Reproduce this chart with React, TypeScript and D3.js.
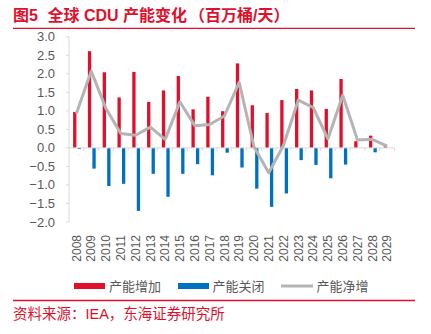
import React from "react";
import * as d3 from "d3";

const years = ["2008","2009","2010","2011","2012","2013","2014","2015","2016","2017","2018","2019","2020","2021","2022","2023","2024","2025","2026","2027","2028","2029"];
const additions = [0.97,2.61,2.04,1.36,2.05,1.24,1.55,1.94,1.04,1.38,0.99,2.28,1.15,0.94,1.29,1.59,1.55,1.05,1.86,0.18,0.33,0.05];
const closures = [-0.03,-0.56,-1.03,-0.97,-1.70,-0.70,-1.32,-0.70,-0.44,-0.74,-0.13,-0.53,-1.10,-1.59,-1.23,-0.33,-0.46,-0.82,-0.45,0,-0.12,0];
const netAdds = [0.93,2.07,1.06,0.39,0.34,0.56,0.23,1.24,0.60,0.63,0.86,1.77,0.03,-0.67,0.07,1.29,1.09,0.24,1.42,0.21,0.23,0.05];
const yTicks = [3,2.5,2,1.5,1,0.5,0,-0.5,-1,-1.5,-2];
const legendLabels = ["产能增加","产能关闭","产能净增"];

const RED = "#e0102c";
const BLUE = "#0070c0";
const GRAY = "#b4b4b4";
const TXT = "#595959";
const FONT = "'Liberation Sans', Arial, 'Noto Sans CJK SC', sans-serif";

export default function App() {
  const W = 431, H = 334;
  const x = d3.scaleBand<string>().domain(years).range([69, 394.5]).padding(0);
  const y = d3.scaleLinear().domain([-2, 3]).range([222, 36.7]);
  const bw = 3.3;
  const c = (yr: string) => (x(yr) as number) + x.bandwidth() / 2;
  const line = d3.line<number>().x((_, i) => c(years[i])).y(v => y(v));
  const y0 = y(0);

  return (
    <svg width={W} height={H} style={{ position: "absolute", left: 0, top: 0, background: "#fff" }} fontFamily={FONT}>
      <text x={13} y={21} fontSize={16} fontWeight="bold" fill={RED}>
        <tspan>图5</tspan>
        <tspan x={47.5}>全球 CDU 产能变化</tspan>
        <tspan x={189}>（百万桶/天）</tspan>
      </text>
      <line x1={13} x2={415} y1={28.3} y2={28.3} stroke={RED} strokeWidth={1.3} />

      {/* y axis */}
      <line x1={69} x2={69} y1={y(3)} y2={y(-2)} stroke="#d9d9d9" strokeWidth={1} />
      {yTicks.map(t => (
        <g key={t}>
          <line x1={66} x2={69} y1={y(t)} y2={y(t)} stroke="#d9d9d9" />
          <text x={55} y={y(t)} dy="0.35em" textAnchor="end" fontSize={13} fill={TXT}>{d3.format(".1f")(t)}</text>
        </g>
      ))}

      {/* bars */}
      {additions.map((v, i) => (
        <rect key={"a" + i} x={c(years[i]) - bw} width={bw} y={y(Math.max(0, v))} height={Math.abs(y(v) - y0)} fill={RED} />
      ))}
      {closures.map((v, i) => (
        <rect key={"c" + i} x={c(years[i]) + 1.2} width={bw} y={y0} height={Math.abs(y(v) - y0)} fill={BLUE} />
      ))}

      {/* x axis */}
      <line x1={69} x2={394.5} y1={y0} y2={y0} stroke="#d9d9d9" strokeWidth={1} />
      {years.map((yr, i) => (
        <line key={"t" + i} x1={(x(yr) as number) + x.bandwidth()} x2={(x(yr) as number) + x.bandwidth()} y1={y0} y2={y0 + 3} stroke="#d9d9d9" />
      ))}

      <path d={line(netAdds) || ""} fill="none" stroke={GRAY} strokeWidth={3} strokeLinejoin="round" />

      {years.map(yr => (
        <text key={"l" + yr} transform={`translate(${c(yr)},235) rotate(-90)`} textAnchor="end" dy="0.35em" fontSize={12} fill={TXT}>{yr}</text>
      ))}

      {/* legend */}
      <rect x={74} y={283} width={31} height={6} fill={RED} />
      <text x={109} y={286} dy="0.35em" fontSize={13} fill={TXT}>{legendLabels[0]}</text>
      <rect x={178} y={283} width={31} height={6} fill={BLUE} />
      <text x={212.5} y={286} dy="0.35em" fontSize={13} fill={TXT}>{legendLabels[1]}</text>
      <line x1={281} x2={313} y1={286} y2={286} stroke={GRAY} strokeWidth={3} />
      <text x={316.5} y={286} dy="0.35em" fontSize={13} fill={TXT}>{legendLabels[2]}</text>

      <line x1={13} x2={415} y1={300.5} y2={300.5} stroke={RED} strokeWidth={1.3} />
      <text x={13} y={318.5} fontSize={14.5} fill={RED}>资料来源：IEA，东海证券研究所</text>
    </svg>
  );
}
